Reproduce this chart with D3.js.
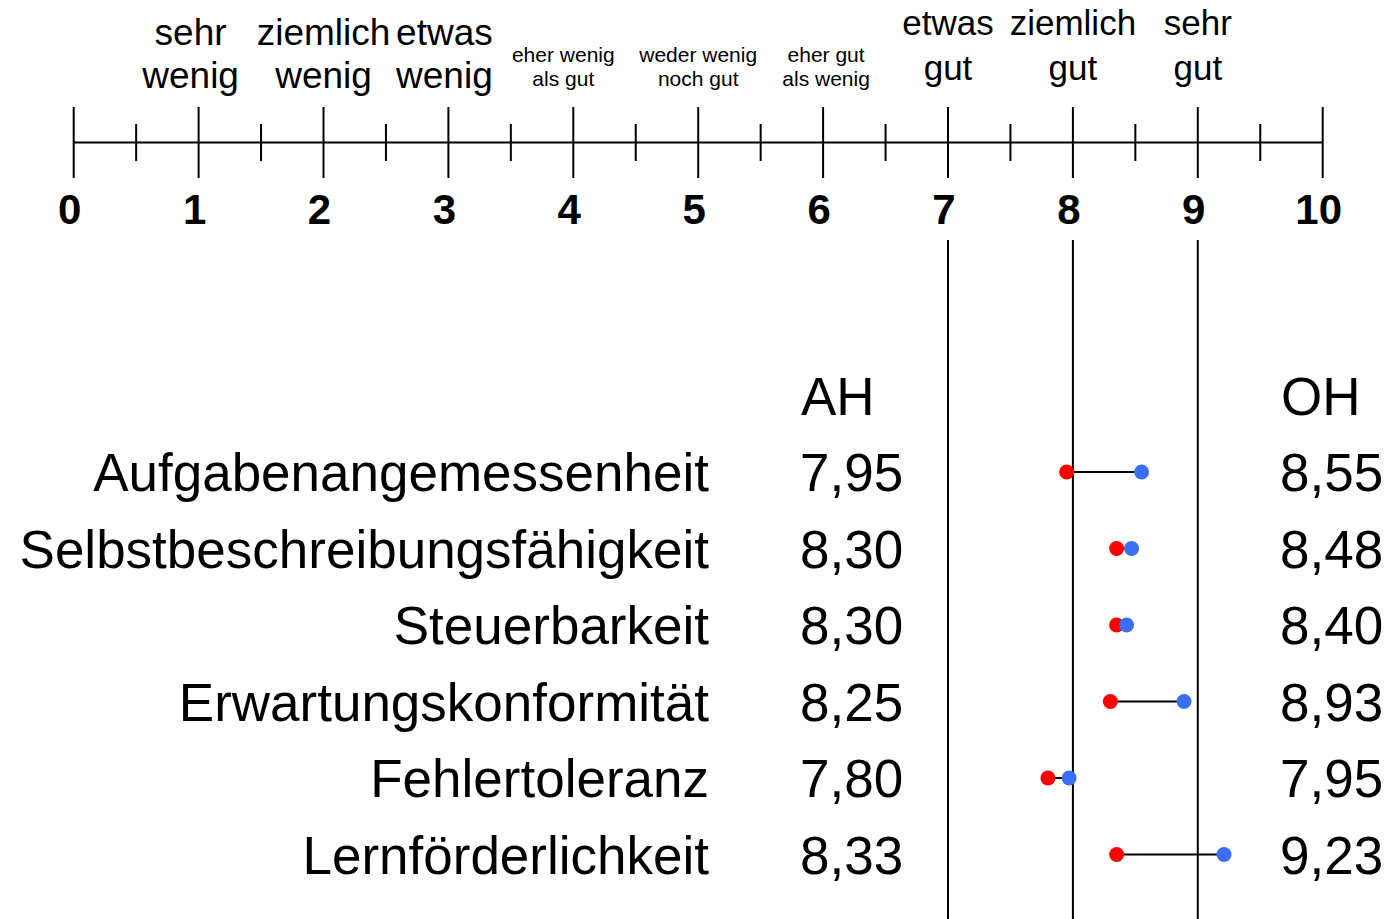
<!DOCTYPE html>
<html>
<head>
<meta charset="utf-8">
<script src="https://cdn.jsdelivr.net/npm/d3@7"></script>
<style>
  html, body { margin: 0; padding: 0; background: #fff; }
  svg { display: block; font-family: "Liberation Sans", Arial, sans-serif; }
</style>
</head>
<body>
<svg id="chart" width="1390" height="919"></svg>
<script>
// ── Data ─────────────────────────────────────────────────────────────────────
const scaleTicks   = d3.range(0, 11);          // 0 … 10
const scaleLabels  = [
  { v: 1, lines: ['sehr', 'wenig'],           group: 'neg' },
  { v: 2, lines: ['ziemlich', 'wenig'],       group: 'neg' },
  { v: 3, lines: ['etwas', 'wenig'],          group: 'neg' },
  { v: 4, lines: ['eher wenig', 'als gut'],   group: 'mid' },
  { v: 5, lines: ['weder wenig', 'noch gut'], group: 'mid' },
  { v: 6, lines: ['eher gut', 'als wenig'],   group: 'mid' },
  { v: 7, lines: ['etwas', 'gut'],            group: 'pos' },
  { v: 8, lines: ['ziemlich', 'gut'],         group: 'pos' },
  { v: 9, lines: ['sehr', 'gut'],             group: 'pos' }
];
const refLines     = [7, 8, 9];

const categories   = ['Aufgabenangemessenheit', 'Selbstbeschreibungsfähigkeit', 'Steuerbarkeit',
                      'Erwartungskonformität', 'Fehlertoleranz', 'Lernförderlichkeit'];
const ahLabels     = ['7,95', '8,30', '8,30', '8,25', '7,80', '8,33'];
const ohLabels     = ['8,55', '8,48', '8,40', '8,93', '7,95', '9,23'];
// dot positions as drawn in the picture
const ahDots       = [7.95, 8.35, 8.35, 8.30, 7.80, 8.35];
const ohDots       = [8.55, 8.47, 8.43, 8.89, 7.97, 9.21];

// ── Layout ───────────────────────────────────────────────────────────────────
const svg  = d3.select('#chart');
const x    = d3.scaleLinear().domain([0, 10]).range([73.7, 1322.7]);
const rowY = d3.scalePoint().domain(categories).range([491, 873.5]);
const step = rowY.step();

const axisY = 142.5;
const labelStyle = {
  neg: { size: 37, base: [45, 88] },
  mid: { size: 21, base: [62, 86] },
  pos: { size: 35, base: [35, 80] }
};
// the verbal anchors are not quite centred on their ticks in the original
const labelNudge = { 1: -8, 3: -4, 4: -10, 6: 3 };

// ── Scale axis ───────────────────────────────────────────────────────────────
const axis = svg.append('g').attr('stroke', '#000').attr('stroke-width', 2);

axis.append('line')
  .attr('x1', x(0)).attr('x2', x(10))
  .attr('y1', axisY).attr('y2', axisY);

axis.selectAll('.major').data(scaleTicks).join('line')
  .attr('class', 'major')
  .attr('x1', d => x(d)).attr('x2', d => x(d))
  .attr('y1', 107).attr('y2', 178);

axis.selectAll('.minor').data(scaleTicks.slice(0, -1).map(d => d + 0.5)).join('line')
  .attr('class', 'minor')
  .attr('x1', d => x(d)).attr('x2', d => x(d))
  .attr('y1', 124).attr('y2', 161);

svg.append('g').selectAll('text').data(scaleTicks).join('text')
  .attr('x', d => x(d) - 4)
  .attr('y', 224)
  .attr('text-anchor', 'middle')
  .attr('font-size', 42)
  .attr('font-weight', 'bold')
  .text(d => d);

// verbal anchors above the axis
const anchors = svg.append('g').selectAll('text').data(scaleLabels).join('text')
  .attr('text-anchor', 'middle')
  .attr('font-size', d => labelStyle[d.group].size);

anchors.selectAll('tspan').data(d => d.lines.map((t, i) => ({ t, i, d }))).join('tspan')
  .attr('x', o => x(o.d.v) + (labelNudge[o.d.v] || 0))
  .attr('y', o => labelStyle[o.d.group].base[o.i])
  .text(o => o.t);

// ── Reference lines ──────────────────────────────────────────────────────────
svg.append('g').selectAll('line').data(refLines).join('line')
  .attr('x1', d => x(d)).attr('x2', d => x(d))
  .attr('y1', 240).attr('y2', 919)
  .attr('stroke', '#000').attr('stroke-width', 2);

// ── Headers ──────────────────────────────────────────────────────────────────
const headY = rowY(categories[0]) - step;
svg.append('text').attr('x', 801).attr('y', headY).attr('font-size', 53).text('AH');
svg.append('text').attr('x', 1281).attr('y', headY).attr('font-size', 53).text('OH');

// ── Rows ─────────────────────────────────────────────────────────────────────
const rows = svg.append('g').selectAll('g').data(categories).join('g')
  .attr('transform', d => `translate(0,${rowY(d)})`);

rows.append('text')
  .attr('x', 709).attr('text-anchor', 'end')
  .attr('font-size', 53)
  .text(d => d);

rows.append('text')
  .attr('x', 800).attr('font-size', 53)
  .text((d, i) => ahLabels[i]);

rows.append('text')
  .attr('x', 1280).attr('font-size', 53)
  .text((d, i) => ohLabels[i]);

const dotDy = -19;

rows.append('line')
  .attr('x1', (d, i) => x(ahDots[i])).attr('x2', (d, i) => x(ohDots[i]))
  .attr('y1', dotDy).attr('y2', dotDy)
  .attr('stroke', '#000').attr('stroke-width', 2);

rows.append('circle')
  .attr('cx', (d, i) => x(ahDots[i])).attr('cy', dotDy)
  .attr('r', 7.5).attr('fill', '#ff0000');

rows.append('circle')
  .attr('cx', (d, i) => x(ohDots[i])).attr('cy', dotDy)
  .attr('r', 7.5).attr('fill', '#3a6ef6');
</script>
</body>
</html>
